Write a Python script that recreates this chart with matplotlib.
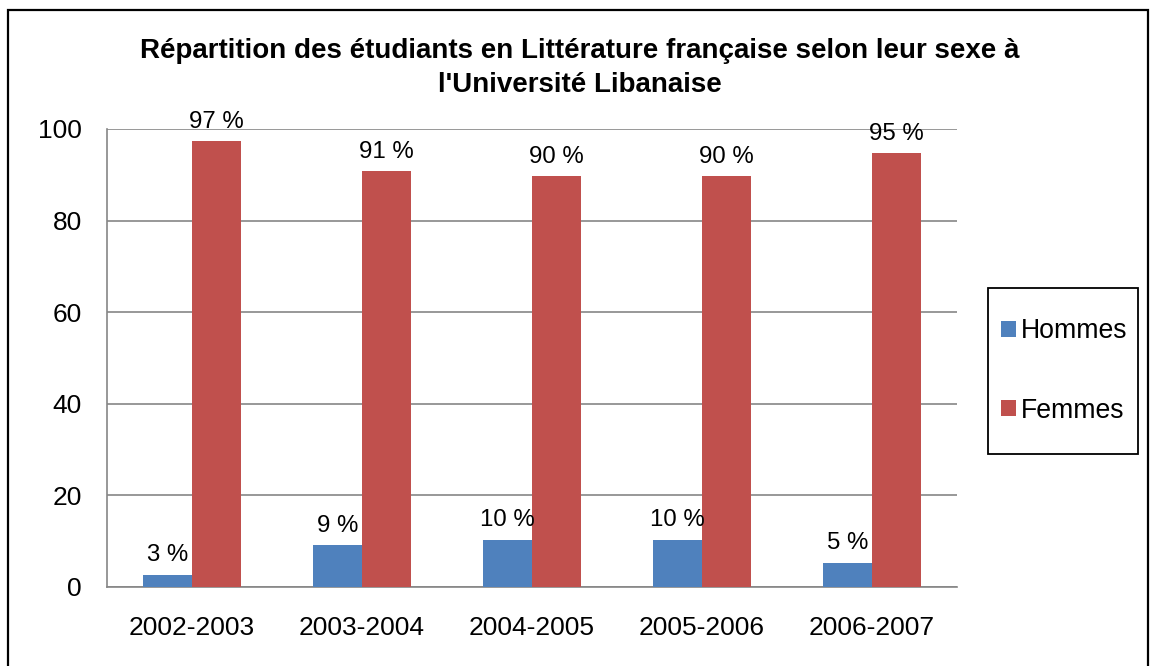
import matplotlib
matplotlib.use("Agg")
import matplotlib.pyplot as plt
import matplotlib.patches as mpatches
import numpy as np

categories = ["2002-2003", "2003-2004", "2004-2005", "2005-2006", "2006-2007"]
hommes = [2.7, 9.2, 10.3, 10.3, 5.3]
femmes = [97.3, 90.8, 89.7, 89.7, 94.7]
labels_hommes = ["3 %", "9 %", "10 %", "10 %", "5 %"]
labels_femmes = ["97 %", "91 %", "90 %", "90 %", "95 %"]
series_names = ["Hommes", "Femmes"]
title = "Répartition des étudiants en Littérature française selon leur sexe à\nl'Université Libanaise"

plt.rcParams['font.family'] = ['Liberation Sans', 'DejaVu Sans']

W, H = 1151, 666
fig = plt.figure(figsize=(W / 100, H / 100), dpi=100)
fig.patch.set_facecolor("white")

# outer frame
fig.add_artist(mpatches.Rectangle((8 / W, -0.02), (1148 - 8) / W, (H - 10) / H + 0.02,
                                  transform=fig.transFigure, fill=False,
                                  edgecolor="black", linewidth=1.6))

left, right, top, bottom = 107, 957, 129, 587
ax = fig.add_axes([left / W, (H - bottom) / H, (right - left) / W, (bottom - top) / H])

blue = "#4F81BD"
red = "#C0504D"
grid_c = "#868686"

x = np.arange(len(categories))
bw = 1 / 3.5
b1 = ax.bar(x - bw / 2, hommes, bw, color=blue, label=series_names[0], zorder=3)
b2 = ax.bar(x + bw / 2, femmes, bw, color=red, label=series_names[1], zorder=3)

for rect, lab in zip(b1, labels_hommes):
    ax.annotate(lab, (rect.get_x() + rect.get_width() / 2, rect.get_height()),
                xytext=(0, 6), textcoords="offset points", ha="center", va="bottom",
                fontsize=17.3)
for rect, lab in zip(b2, labels_femmes):
    ax.annotate(lab, (rect.get_x() + rect.get_width() / 2, rect.get_height()),
                xytext=(0, 6), textcoords="offset points", ha="center", va="bottom",
                fontsize=17.3)

ax.set_xlim(-0.5, len(categories) - 0.5)
ax.set_ylim(0, 100)
ax.set_yticks([0, 20, 40, 60, 80, 100])
ax.set_xticks(x)
ax.set_xticklabels(categories)
ax.tick_params(axis="both", length=0, labelsize=19)
ax.tick_params(axis="y", pad=18)
ax.tick_params(axis="x", pad=21)
ax.yaxis.grid(True, color=grid_c, linewidth=1.2, zorder=0)
for s in ["top", "right"]:
    ax.spines[s].set_visible(False)
for s in ["left", "bottom"]:
    ax.spines[s].set_color(grid_c)
    ax.spines[s].set_linewidth(1.2)

fig.text(580 / W, 1 - 68 / H, title, ha="center", va="center", fontsize=20,
         fontweight="bold", linespacing=1.38)

# legend frame
fig.add_artist(mpatches.Rectangle((988 / W, (H - 454) / H), 150 / W, 166 / H,
                                  transform=fig.transFigure, fill=False,
                                  edgecolor="black", linewidth=1.3))
leg = fig.legend(handles=[b1, b2], labels=series_names, loc="center left",
                 bbox_to_anchor=(1001 / W, (H - 371) / H), fontsize=19.2,
                 frameon=False, handlelength=0.55, handleheight=0.55,
                 handletextpad=0.2, labelspacing=2.0, borderpad=0, borderaxespad=0)

fig.savefig("out.png", dpi=100)
